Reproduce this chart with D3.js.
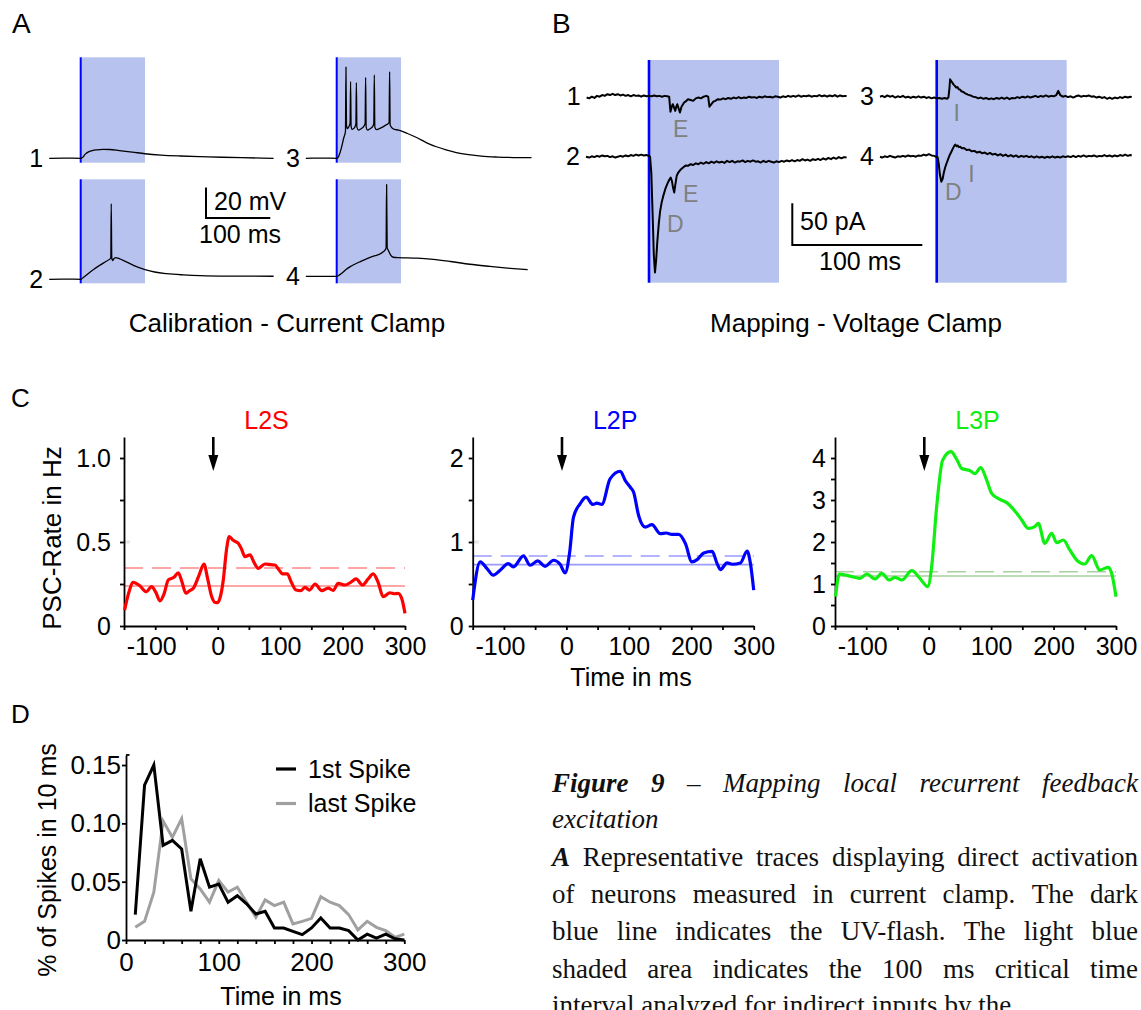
<!DOCTYPE html>
<html>
<head>
<meta charset="utf-8">
<script src="https://cdn.jsdelivr.net/npm/d3@7"></script>
<style>
  html, body { margin: 0; padding: 0; background: #fff; }
  svg { display: block; }
</style>
</head>
<body>
<script>
// ================= data =================

// critical interval after the UV flash (ms)
const flashWindow = [0, 100];

// A: current-clamp traces, [time ms, mV relative to rest]
const ccTrace1 = [[-49,0],[-25,0.1],[0,0],[2,0.3],[4,0.9],[6,2.2],[9,3.4],[13,4.4],[18,5.1],[25,5.6],[35,5.9],[45,5.8],[60,5.1],[80,4.1],[100,3.0],[125,2.1],[155,1.5],[186,1.1],[220,0.7],[250,0.4],[300,0]];
const ccTrace2 = [[-49,0],[-20,0.1],[0,0],[5,1.5],[10,3.2],[20,6.4],[30,9.3],[40,11.9],[46,13.6],[46.8,14],[47.5,49.8],[48.3,14.5],[49.5,12.3],[51,13.2],[54,14.3],[58,13.9],[65,12.6],[75,10.6],[82,9.2],[100,6.4],[115,4.8],[134,3.7],[160,2.9],[186,2.4],[230,2.1],[300,2.0]];
const ccTrace3 = [[-48,0],[-20,0.1],[0,0],[2,0.5],[5,3.5],[8,8],[11,13.5],[13.6,17.5],[14.4,60],[15.2,22],[16.5,19.5],[18.5,20.5],[20.8,23],[21.6,50.4],[22.4,21],[24,19],[27,19.8],[29.8,22.5],[30.6,49.7],[31.4,20.5],[34,18.5],[38,19.5],[42,21],[44.2,23],[45,53.3],[45.8,20.5],[48,18.5],[52,19.5],[56,21],[57.7,23],[58.5,54.8],[59.3,20.5],[62,18.8],[68,19.8],[75,21.5],[81.5,23.5],[82.3,57],[83.1,22],[86,20],[90,19],[96,18.6],[100,18],[110,16.3],[125,13.5],[140,10.2],[155,7.6],[170,5.6],[186,3.8],[205,2.4],[225,1.4],[250,0.8],[275,0.5],[303,0.4]];
const ccTrace4 = [[-48,0],[-20,0],[0,0],[3,0.6],[8,2.1],[14,4.3],[21,6.4],[28,8.0],[36,9.6],[44,11.1],[52,12.5],[60,13.6],[67,14.7],[72,16.0],[76,17.8],[76.8,19],[77.6,60.5],[78.5,19],[80.5,17],[84,14],[88,12.6],[95,12.3],[110,12.2],[125,12.0],[150,11.2],[177,9.8],[207,8.0],[238,6.6],[270,5.3],[297,4.4]];

// B: voltage-clamp traces, [time ms, pA relative to holding current]
const vcTrace1 = [[-48,-1],[-46,-2],[-44,0],[-42,-1.5],[-40,1],[-38,0],[-36,2],[-34,1],[-32,3],[-30,2],[-28,3.5],[-26,2],[-24,3],[-22,1.5],[-20,2.5],[-18,1],[-16,2],[-14,0.5],[-12,2],[-10,1],[-8,1.5],[-6,0],[-4,1.5],[-2,0.5],[0,1],[2,0.5],[4,1.5],[6,0.5],[8,1],[10,0],[12,1],[14,0.5],[15.5,0],[16.5,-18],[17.5,-12],[18.3,-9],[19.5,-14],[20.2,-17],[21,-12],[21.8,-9],[23,-15],[23.8,-19],[25,-12],[27,-7],[28,-6],[30,-3],[32,-4],[34,-5],[36,-2],[38,-1],[40,-2],[42,0],[44,1],[45.5,0],[46.5,-12],[48,-9],[49.5,-6],[51,-5],[53,-3],[55,-3.5],[57,-2],[59,-3],[61,-1.5],[63,-2.5],[65,-1],[67,-2],[69,-0.5],[71,-2],[73,-1],[75,-1.5],[77,0],[79,-1],[81,-0.5],[83,-1.5],[85,0],[87,-1],[89,0.5],[91,-0.5],[93,0],[95,-1],[97,0.5],[99,0],[101,-1],[103,0.5],[105,-0.5],[107,1],[109,0],[111,1],[113,0],[115,1.5],[117,0],[119,1],[121,0.5],[123,1.5],[125,0],[127,1],[129,0.5],[131,2],[133,0.5],[135,1.5],[137,0],[139,1.5],[141,0.5],[143,2],[145,0],[147,1.5],[149,0.5],[151,1],[152,0.5]];
const vcTrace2 = [[-48.5,0],[-46,-1],[-44,0.5],[-42,-0.5],[-40,1],[-38,0],[-36,1.5],[-34,0.5],[-32,1],[-30,-0.5],[-28,0.5],[-26,-1],[-24,0],[-22,1],[-20,0],[-18,1.5],[-16,0.5],[-14,2],[-12,1],[-10,2.5],[-8,1.5],[-6,2.5],[-4,1.5],[-2,2],[0,1],[0.8,0],[1.8,-20],[2.8,-70],[3.7,-118],[4.6,-139],[5.5,-124],[6.4,-102],[7.5,-81],[8.5,-66],[9.6,-56],[11,-47],[12.5,-39],[14,-33],[15.5,-28],[16.7,-25],[17.6,-29],[18.6,-38],[19.4,-43],[20.2,-34],[21.3,-23],[22.5,-19],[24,-16],[25.5,-14],[27,-12],[28.5,-10.5],[30,-11],[32,-9],[34,-10],[36,-8],[38,-9],[40,-7],[42,-8.5],[44,-6.5],[46,-8],[48,-6],[50,-7.5],[52,-5.5],[54,-7],[56,-6],[58,-7.5],[60,-5],[62,-6.5],[64,-5],[66,-7],[68,-5.5],[70,-6],[72,-4.5],[74,-6.5],[76,-5],[78,-6],[80,-4.5],[82,-6],[84,-5.5],[86,-7],[88,-5],[90,-6.5],[92,-5],[94,-6],[96,-7],[98,-5.5],[100,-6.5],[102,-5],[104,-6],[106,-4.5],[108,-5.5],[110,-4],[112,-5.5],[114,-4],[116,-5],[118,-3],[120,-4.5],[122,-3.5],[124,-5],[126,-3],[128,-4],[130,-2.5],[132,-4],[134,-2],[136,-3.5],[138,-1.5],[140,-3],[142,-1],[144,-2.5],[146,-0.5],[148,-2],[150,-0.5],[152,-1]];
const vcTrace3 = [[-43.6,0],[-42,1],[-40,-0.5],[-38,1.5],[-36,0],[-34,1],[-32,-1],[-30,0.5],[-28,-0.5],[-26,1],[-24,-1],[-22,0],[-20,-1.5],[-18,0],[-16,-1],[-14,0.5],[-12,-1],[-10,0],[-8,-1.5],[-6,-0.5],[-4,-2],[-2,-1],[0,-2],[2,-1.5],[4,-2.5],[6,-1.5],[8,-2.5],[9,-1],[9.8,10],[10.3,21],[11,19],[12,17],[13,14.5],[14,13],[15,11],[16,11.5],[17,9],[18,8.5],[19,6.5],[20,6],[22,4],[24,2.5],[26,1.5],[28,0],[30,-0.5],[32,-2],[34,-1],[36,-2.5],[38,-1.5],[40,-3],[42,-2],[44,-3],[46,-1.5],[48,-2.5],[50,-1],[52,-2.5],[54,-1],[56,-3],[58,-1.5],[60,-2],[62,-0.5],[64,-1.5],[66,0],[68,-1],[70,0.5],[72,-1],[74,0],[76,1],[78,-0.5],[80,1],[82,0],[84,1.5],[86,0],[88,1],[90,0.5],[92,2],[93.5,7],[95,2],[97,0],[99,1],[101,-0.5],[103,0.5],[105,-1],[107,0.5],[109,1.5],[111,0],[113,1],[115,0.5],[117,1.5],[119,0],[121,0.5],[123,-1],[125,0],[127,-1.5],[129,-0.5],[131,-2.5],[133,-1],[135,-2.5],[137,-1],[139,-2],[141,-0.5],[143,-1.5],[145,0],[147,-1],[149,0],[150,-0.5]];
const vcTrace4 = [[-43.6,0],[-42,-1],[-40,0.5],[-38,-0.5],[-36,1],[-34,0],[-32,-1],[-30,0.5],[-28,0],[-26,1],[-24,0],[-22,1.5],[-20,0.5],[-18,1],[-16,0],[-14,1.5],[-12,1],[-10,2.5],[-8,1.5],[-6,3],[-4,1.5],[-2,1],[0,-0.5],[0.8,-1],[1.6,-9],[2.5,-22],[3.6,-30],[4.5,-27],[5.5,-19],[6.5,-13],[7.8,-7],[9,-2],[10,2],[11,5],[12.5,10],[13.5,13],[14.3,14.5],[15.2,12.5],[16,13.5],[17,11.5],[18,12],[19.5,10],[21,10.5],[23,8],[25,8.5],[27,6.5],[29,7],[31,5],[33,6],[35,4],[37,5],[39,3],[41,4.5],[43,2.5],[45,3.5],[47,1.5],[49,3],[51,1],[53,2.5],[55,0.5],[57,2],[59,0],[61,1.5],[63,-0.5],[65,1],[67,0],[69,1],[71,-0.5],[73,0.5],[75,-1],[77,0.5],[79,-1],[81,0],[83,-1.5],[85,0],[87,-1],[89,0.5],[91,-1],[93,0],[95,-1],[97,0.5],[99,-0.5],[101,0.5],[103,-0.5],[105,1],[107,-0.5],[109,1],[111,0],[113,1.5],[115,0],[117,1],[119,0.5],[121,1.5],[123,0],[125,1],[127,0.5],[129,2],[131,0.5],[133,1.5],[135,0],[137,1.5],[139,0.5],[141,2],[143,1],[145,2.5],[147,1],[149,2],[150,1.5]];

// C: PSC rate (Hz) over time (ms) relative to the flash
const cellTypes = ["L2S", "L2P", "L3P"];
const rateL2S = [[-149,0.095],[-143,0.19],[-135,0.26],[-125,0.24],[-114,0.204],[-106,0.234],[-99,0.2],[-92.5,0.15],[-86,0.19],[-79,0.274],[-70,0.29],[-63,0.317],[-57,0.26],[-51,0.195],[-45,0.21],[-39,0.224],[-30,0.3],[-22,0.369],[-16,0.28],[-9.6,0.175],[-4,0.14],[0,0.139],[4,0.17],[9,0.274],[14,0.45],[18.6,0.532],[25,0.51],[33,0.492],[38,0.46],[43.8,0.413],[51.8,0.423],[58,0.38],[65,0.343],[75.8,0.369],[85,0.365],[91.8,0.363],[98,0.335],[104,0.31],[111.5,0.31],[118,0.26],[125.5,0.214],[133,0.21],[140,0.23],[147,0.214],[156,0.25],[166.7,0.21],[177,0.226],[185,0.212],[193,0.254],[204,0.244],[213,0.26],[221.6,0.28],[232,0.244],[241,0.28],[249,0.31],[257,0.26],[265,0.175],[276,0.198],[283,0.192],[289,0.194],[295,0.16],[300,0.075]];
const rateL2P = [[-150,0.308],[-138,0.763],[-127,0.684],[-117,0.605],[-106,0.664],[-93,0.743],[-84.8,0.704],[-68.7,0.834],[-58,0.723],[-46,0.775],[-34,0.711],[-20.7,0.783],[-10,0.735],[-2,0.632],[5,0.862],[11.4,1.296],[22,1.455],[31.7,1.534],[42.4,1.447],[48.8,1.462],[56.8,1.447],[70,1.751],[86.4,1.842],[94.4,1.731],[102.4,1.652],[107.7,1.593],[115.7,1.316],[126.4,1.178],[137,1.206],[150.4,1.099],[160,1.107],[169,1.091],[180,1.091],[190.7,0.98],[201,0.763],[209.4,0.79],[220,0.87],[233.4,0.889],[241.4,0.743],[246.7,0.672],[257.4,0.751],[265.4,0.735],[278.8,0.751],[289.5,0.893],[294.8,0.743],[300,0.427]];
const rateL3P = [[-149,0.698],[-143,1.238],[-134,1.214],[-123,1.175],[-110,1.135],[-99,1.238],[-86,1.119],[-75,1.254],[-63,1.095],[-54,1.159],[-43,1.095],[-27,1.317],[-14,1.135],[-1.6,0.937],[4.8,1.413],[12.8,2.84],[22.4,3.95],[35.8,4.15],[44.8,3.97],[52.9,3.75],[66.2,3.70],[74.2,3.63],[83.3,3.77],[92.9,3.476],[100.9,3.159],[114,3.016],[125,2.937],[141,2.683],[149,2.524],[159.6,2.325],[170,2.365],[175.6,2.444],[186,1.968],[197,2.206],[205,1.984],[215.7,2.048],[226,1.81],[237,1.571],[250,1.476],[261,1.675],[274,1.333],[288,1.397],[293,1.254],[300,0.698]];
const rateMean = [0.238, 0.731, 1.19];
const rateThreshold = [0.345, 0.834, 1.29];
const rateYMax = [1.125, 2.25, 4.5];
const rateYLabels = [[0, 0.5, 1.0], [0, 1, 2], [0, 1, 2, 3, 4]];
const rateXLabels = [-100, 0, 100, 200, 300];
const stimArrowTime = -7;

// D: spike timing histogram, 10 ms bins
const binTimes = [10,20,30,40,50,60,70,80,90,100,110,120,130,140,150,160,170,180,190,200,210,220,230,240,250,260,270,280,290,300];
const firstSpike = [0.0218,0.1327,0.150,0.0811,0.0854,0.078,0.0246,0.0696,0.0453,0.048,0.0324,0.038,0.031,0.0223,0.0246,0.0103,0.0103,0.0074,0.0046,0.0103,0.0189,0.0103,0.0103,0.008,0,0.005,0.0017,0.005,0.001,0];
const lastSpike = [0.0109,0.016,0.041,0.102,0.088,0.104,0.0524,0.0438,0.0324,0.051,0.041,0.0453,0.0324,0.0195,0.0344,0.0295,0.0324,0.0138,0.016,0.0186,0.0372,0.0324,0.0295,0.0218,0.0086,0.016,0.0109,0.008,0.0023,0.005];
const spikeSeries = ["1st Spike", "last Spike"];
const dXLabels = [0, 100, 200, 300];
const dYLabels = [0, 0.05, 0.10, 0.15];

// caption
const captionLines = [
  { text: "Figure 9 – Mapping local recurrent feedback", bold: 2, italic: true, justify: true },
  { text: "excitation", bold: 0, italic: true, justify: false },
  { text: "A Representative traces displaying direct activation", bold: 1, italic: false, justify: true },
  { text: "of neurons measured in current clamp. The dark", bold: 0, italic: false, justify: true },
  { text: "blue line indicates the UV-flash. The light blue", bold: 0, italic: false, justify: true },
  { text: "shaded area indicates the 100 ms critical time", bold: 0, italic: false, justify: true },
  { text: "interval analyzed for indirect inputs by the", bold: 0, italic: false, justify: false }
];

// ================= drawing =================
const W = 1141, H = 1010;
const SANS = '"Liberation Sans", Arial, Helvetica, sans-serif';
const SERIF = '"Liberation Serif", "Times New Roman", serif';
const SHADE = "#b7c3ee", FLASH = "#0000ff", GREY_LABEL = "#808080";

const svg = d3.select("body").append("svg")
  .attr("width", W).attr("height", H)
  .attr("font-family", SANS);
svg.append("rect").attr("width", W).attr("height", H).attr("fill", "#fff");

function text(g, x, y, s, size, opts = {}) {
  return g.append("text").attr("x", x).attr("y", y)
    .attr("font-size", size)
    .attr("text-anchor", opts.anchor || "start")
    .attr("fill", opts.fill || "#000")
    .text(s);
}

// panel letters
text(svg, 12, 33, "A", 28);
text(svg, 552, 33, "B", 28);
text(svg, 11, 407, "C", 26);
text(svg, 11, 723, "D", 26);

// ---------- generic trace panel (A and B) ----------
function tracePanel(cfg) {
  const g = svg.append("g");
  // shaded windows and flash markers
  cfg.cols.forEach(x0 => cfg.rows.forEach(([top, bottom]) => {
    const x = d3.scaleLinear().domain([0, 1]).range([x0, x0 + cfg.pxPerMs]);
    g.append("rect")
      .attr("x", x(flashWindow[0])).attr("y", top)
      .attr("width", x(flashWindow[1]) - x(flashWindow[0]))
      .attr("height", bottom - top)
      .attr("fill", SHADE);
    g.append("line")
      .attr("x1", x(0)).attr("x2", x(0))
      .attr("y1", top).attr("y2", bottom)
      .attr("stroke", FLASH).attr("stroke-width", cfg.flashWidth);
  }));
  cfg.traces.forEach(tr => {
    const x0 = cfg.cols[tr.col];
    const x = d3.scaleLinear().domain([0, 1]).range([x0, x0 + cfg.pxPerMs]);
    const y = d3.scaleLinear().domain([0, 1]).range([tr.base, tr.base - cfg.pxPerUnit]);
    g.append("path").datum(tr.data)
      .attr("d", d3.line().x(d => x(d[0])).y(d => y(d[1])).curve(cfg.curve))
      .attr("fill", "none").attr("stroke", "#000")
      .attr("stroke-width", cfg.lineWidth)
      .attr("stroke-linejoin", "round");
    text(g, x(tr.data[0][0]) - cfg.labelGap, tr.base + 8.5, tr.label, 25, { anchor: "end" });
    (tr.marks || []).forEach(m => {
      text(g, x(m.t), y(m.v), m.s, 23, { anchor: m.anchor || "start", fill: GREY_LABEL });
    });
  });
  // scale bar
  const sb = cfg.scaleBar;
  const sx = d3.scaleLinear().domain([0, 1]).range([sb.x, sb.x + cfg.pxPerMs]);
  const sy = d3.scaleLinear().domain([0, 1]).range([sb.y, sb.y - cfg.pxPerUnit]);
  g.append("path")
    .attr("d", `M${sx(0)},${sy(sb.amp)}V${sy(0)}H${sx(sb.dur)}`)
    .attr("fill", "none").attr("stroke", "#000").attr("stroke-width", 2);
  text(g, sb.ampLabelX, sb.ampLabelY, sb.ampText, 25);
  text(g, sb.durLabelX, sb.durLabelY, sb.durText, 25, { anchor: "middle" });
  text(g, cfg.titleX, 332, cfg.title, 26, { anchor: "middle" });
}

// A: calibration in current clamp
tracePanel({
  cols: [80.7, 336.7],
  rows: [[57.3, 162.7], [179.3, 283.3]],
  pxPerMs: 0.643, pxPerUnit: 1.52,
  flashWidth: 2, lineWidth: 1.3, labelGap: 6,
  curve: d3.curveMonotoneX,
  traces: [
    { data: ccTrace1, col: 0, base: 158.3, label: "1" },
    { data: ccTrace2, col: 0, base: 279.3, label: "2" },
    { data: ccTrace3, col: 1, base: 158.3, label: "3" },
    { data: ccTrace4, col: 1, base: 276.4, label: "4" }
  ],
  scaleBar: { x: 206, y: 218, amp: 20, dur: 100,
    ampText: "20 mV", ampLabelX: 214, ampLabelY: 210,
    durText: "100 ms", durLabelX: 240, durLabelY: 243 },
  title: "Calibration - Current Clamp", titleX: 287
});

// B: mapping in voltage clamp
tracePanel({
  cols: [649, 936.7],
  rows: [[60, 282.7]],
  pxPerMs: 1.3, pxPerUnit: 0.833,
  flashWidth: 2.6, lineWidth: 2, labelGap: 6,
  curve: d3.curveLinear,
  traces: [
    { data: vcTrace1, col: 0, base: 96.7, label: "1",
      marks: [{ t: 18.5, v: -48.4, s: "E" }] },
    { data: vcTrace2, col: 0, base: 156.7, label: "2",
      marks: [{ t: 26.2, v: -54, s: "E" }, { t: 13.8, v: -90, s: "D" }] },
    { data: vcTrace3, col: 1, base: 96.7, label: "3",
      marks: [{ t: 15.4, v: -29, s: "I", anchor: "middle" }] },
    { data: vcTrace4, col: 1, base: 156.7, label: "4",
      marks: [{ t: 26.8, v: -30, s: "I", anchor: "middle" }, { t: 6.4, v: -52, s: "D" }] }
  ],
  scaleBar: { x: 792.3, y: 245, amp: 50, dur: 100,
    ampText: "50 pA", ampLabelX: 800, ampLabelY: 230,
    durText: "100 ms", durLabelX: 860, durLabelY: 270 },
  title: "Mapping - Voltage Clamp", titleX: 856
});

// ---------- C: PSC rates ----------
const cSpecs = [
  { data: rateL2S, color: "#ff0000", ref: "#ff8a8a", x0: 124, pad: 9, minor: 0.25, fmt: d => d === 0 ? "0" : d.toFixed(1), hint: 0.5 },
  { data: rateL2P, color: "#0000ff", ref: "#9a9aff", x0: 472.7, pad: 5, minor: 0.5, fmt: d => String(d), hint: 1 },
  { data: rateL3P, color: "#11ee11", ref: "#a8cfa0", x0: 835, pad: 5, minor: 0.5, fmt: d => String(d), hint: null }
];
const C_TOP = 437, C_BOT = 626, C_W = 281;

cSpecs.forEach((s, i) => {
  const g = svg.append("g");
  const x = d3.scaleLinear().domain([-150, 300]).range([s.x0, s.x0 + C_W]);
  const y = d3.scaleLinear().domain([0, rateYMax[i]]).range([C_BOT, C_TOP]);

  if (s.hint !== null) {
    g.append("line").attr("x1", x(-150)).attr("x2", x(-150) + 6)
      .attr("y1", y(s.hint)).attr("y2", y(s.hint))
      .attr("stroke", "#e6e6e6").attr("stroke-width", 3);
  }

  // baseline mean (solid) and threshold (dashed)
  g.append("line").attr("x1", x(-150)).attr("x2", x(300))
    .attr("y1", y(rateMean[i])).attr("y2", y(rateMean[i]))
    .attr("stroke", s.ref).attr("stroke-width", 1.6);
  g.append("line").attr("x1", x(-150)).attr("x2", x(300))
    .attr("y1", y(rateThreshold[i])).attr("y2", y(rateThreshold[i]))
    .attr("stroke", s.ref).attr("stroke-width", 1.6)
    .attr("stroke-dasharray", "19,9");

  const labelsY = rateYLabels[i];
  const yAxis = d3.axisLeft(y)
    .tickValues(d3.range(0, rateYMax[i] - 0.01, s.minor))
    .tickSize(4).tickSizeOuter(0).tickPadding(s.pad)
    .tickFormat(d => labelsY.some(v => Math.abs(v - d) < 1e-9) ? s.fmt(d) : "");
  const ya = g.append("g").attr("transform", `translate(${x(-150)},0)`).call(yAxis);

  const xAxis = d3.axisBottom(x)
    .tickValues(d3.range(-150, 301, 50))
    .tickSize(4).tickSizeOuter(0).tickPadding(7)
    .tickFormat(d => rateXLabels.includes(d) ? String(d) : "");
  const xa = g.append("g").attr("transform", `translate(0,${C_BOT})`).call(xAxis);

  [ya, xa].forEach(a => {
    a.attr("font-family", SANS).attr("font-size", 25);
    a.selectAll("path, line").attr("stroke", "#000").attr("stroke-width", 1.8);
    a.selectAll("text").attr("fill", "#000");
  });
  xa.selectAll("text").attr("dx", d => d < 0 ? -4 : 0);

  // rate curve
  g.append("path").datum(s.data)
    .attr("d", d3.line().x(d => x(d[0])).y(d => y(d[1])).curve(d3.curveMonotoneX))
    .attr("fill", "none").attr("stroke", s.color).attr("stroke-width", 3.2)
    .attr("stroke-linejoin", "round");

  // flash arrow
  const ax = x(stimArrowTime);
  g.append("line").attr("x1", ax).attr("x2", ax).attr("y1", C_TOP).attr("y2", 458)
    .attr("stroke", "#000").attr("stroke-width", 2.6);
  g.append("path").attr("d", `M${ax - 5},455L${ax + 5},455L${ax},471Z`).attr("fill", "#000");

  // cell type title
  text(g, (x(-150) + x(300)) / 2 + 2, 429, cellTypes[i], 25, { anchor: "middle", fill: s.color });
});

svg.append("text")
  .attr("transform", "translate(61,538) rotate(-90)")
  .attr("text-anchor", "middle").attr("font-size", 26)
  .text("PSC-Rate in Hz");
text(svg, 631, 686, "Time in ms", 25, { anchor: "middle" });

// ---------- D: spike timing ----------
{
  const g = svg.append("g");
  const x = d3.scaleLinear().domain([0, 300]).range([126, 404.3]);
  const y = d3.scaleLinear().domain([0, 0.1586]).range([940, 755]);

  const xAxis = d3.axisBottom(x).tickValues(d3.range(0, 301, 20))
    .tickSize(4).tickSizeOuter(0).tickPadding(9)
    .tickFormat(d => dXLabels.includes(d) ? String(d) : "");
  const yAxis = d3.axisLeft(y).tickValues(dYLabels)
    .tickSize(4).tickSizeOuter(0).tickPadding(1)
    .tickFormat(d => d === 0 ? "0" : d.toFixed(2));
  const xa = g.append("g").attr("transform", "translate(0,940)").call(xAxis);
  const ya = g.append("g").attr("transform", "translate(126,0)").call(yAxis);
  [xa, ya].forEach(a => {
    a.attr("font-family", SANS).attr("font-size", 26);
    a.selectAll("path, line").attr("stroke", "#000").attr("stroke-width", 1.8);
    a.selectAll("text").attr("fill", "#000");
  });
  g.append("line").attr("x1", 126).attr("x2", 129.5).attr("y1", y(0.1586)).attr("y2", y(0.1586))
    .attr("stroke", "#000").attr("stroke-width", 1.8);

  const series = [
    { values: lastSpike, color: "#a0a0a0" },
    { values: firstSpike, color: "#000000" }
  ];
  series.forEach(s => {
    g.append("path").datum(binTimes.map((t, j) => [t, s.values[j]]))
      .attr("d", d3.line().x(d => x(d[0])).y(d => y(d[1])))
      .attr("fill", "none").attr("stroke", s.color).attr("stroke-width", 3)
      .attr("stroke-linejoin", "miter");
  });

  // legend
  const legendColors = ["#000000", "#a0a0a0"];
  spikeSeries.forEach((name, j) => {
    const ly = 769 + j * 34.5;
    g.append("line").attr("x1", 276).attr("x2", 296).attr("y1", ly).attr("y2", ly)
      .attr("stroke", legendColors[j]).attr("stroke-width", 3.2);
    text(g, 308, ly + 8.5, name, 25);
  });

  svg.append("text")
    .attr("transform", "translate(56,860) rotate(-90)")
    .attr("text-anchor", "middle").attr("font-size", 25)
    .text("% of Spikes in 10 ms");
  text(svg, 281, 1005, "Time in ms", 25, { anchor: "middle" });
}

// ---------- caption ----------
{
  const cap = svg.append("g").attr("font-family", SERIF).attr("font-size", 27).attr("fill", "#111");
  const left = 552, right = 1138;
  const baselines = [791.7, 828.3, 866, 903.3, 940, 977.7, 1014];
  captionLines.forEach((line, i) => {
    const words = line.text.split(" ");
    const nodes = words.map((w, j) => {
      const bold = j < line.bold;
      return cap.append("text")
        .attr("y", baselines[i])
        .attr("font-weight", bold ? "bold" : "normal")
        .attr("font-style", (bold || line.italic) ? "italic" : "normal")
        .text(w);
    });
    const widths = nodes.map(n => n.node().getComputedTextLength());
    const total = d3.sum(widths);
    const gap = line.justify ? (right - left - total) / (words.length - 1) : 6.8;
    let cx = left;
    nodes.forEach((n, j) => { n.attr("x", cx); cx += widths[j] + gap; });
  });
}
</script>
</body>
</html>
